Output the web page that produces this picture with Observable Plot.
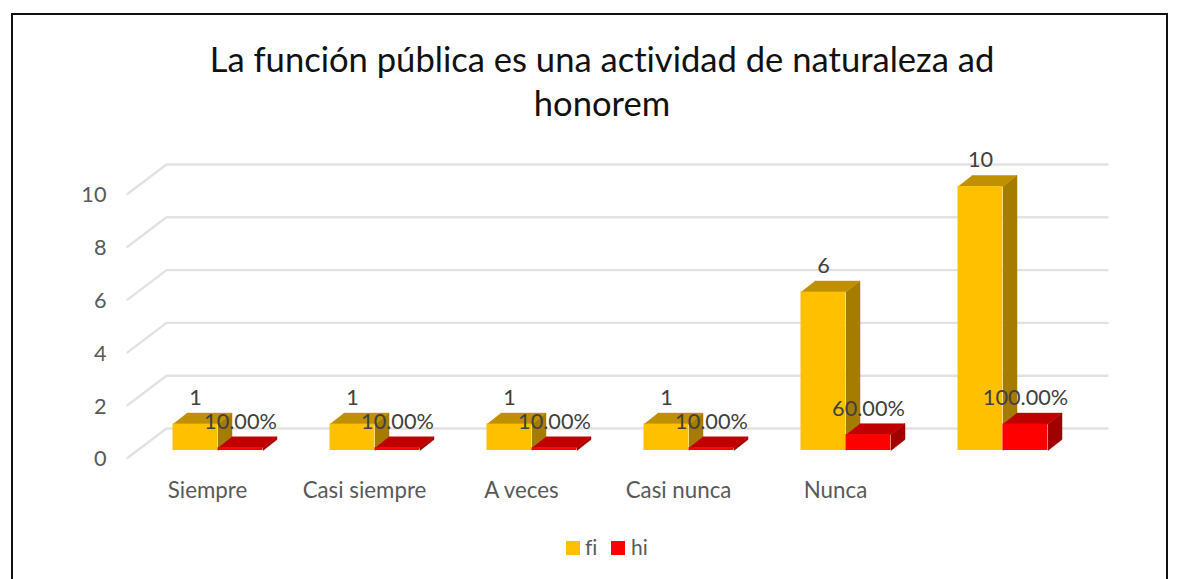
<!DOCTYPE html>
<html lang="es">
<head>
<meta charset="utf-8">
<script src="https://cdn.jsdelivr.net/npm/d3@7"></script>
<script src="https://cdn.jsdelivr.net/npm/@observablehq/plot@0.6"></script>
<style>
html,body{margin:0;padding:0;background:#fff;overflow:hidden}
#page{position:relative;width:1180px;height:579px;overflow:hidden;font-family:Lato,sans-serif;font-variant-ligatures:none}
#frame{position:absolute;left:11px;top:13px;width:1153px;height:600px;border:2px solid #111}
#title{position:absolute;left:102px;top:37px;width:1000px;text-align:center;font-size:34.6px;line-height:44px;color:#111;margin:0;font-weight:400}
#chart{position:absolute;left:0;top:130px}
#chart text{font-variant-ligatures:none}
#legend{position:absolute;left:566px;top:533px;height:28px;font-size:21px;line-height:28px;color:#595959}
#legend i{position:absolute;top:8px;width:14px;height:14px}
#legend span{position:absolute;top:0}
</style>
</head>
<body>
<div id="page">
  <div id="frame"></div>
  <h1 id="title">La función pública es una actividad de naturaleza ad<br>honorem</h1>
  <div id="chart"></div>
  <div id="legend"><i style="left:0;background:#FFC000"></i><span style="left:19px">fi</span><i style="left:45px;background:#FF0000"></i><span style="left:65px">hi</span></div>
</div>
<script>
const categories = ["Siempre", "Casi siempre", "A veces", "Casi nunca", "Nunca", ""];
const fi = [1, 1, 1, 1, 6, 10];
const hi = [0.1, 0.1, 0.1, 0.1, 0.6, 1];
const hiLabels = ["10.00%", "10.00%", "10.00%", "10.00%", "60.00%", "100.00%"];
const yTicks = [0, 2, 4, 6, 8, 10];

// Oblique projection, expressed in scale units (one group = 1 on x, one count = 1 on y).
const unitX = 157, unitY = 26.4;
const gap = 33 / unitX, barW = 45 / unitX;
const depX = 14 / unitX, depY = 11 / unitY;
const wallX1 = 26.5 / unitX, wallX2 = 967.5 / unitX, wallY = 22 / unitY;
const floorX = -12.5 / unitX, floorY = -7.5 / unitY;
const tickY = -9 / unitY;
const labelLift = 26 / unitY;

const left = (i, s) => i + gap + s * barW;
const bars = (vals, s) => vals.map((v, i) => ({x1: left(i, s), x2: left(i, s) + barW, y: v, i}));
const sideFace = (vals, s) => vals.flatMap((v, i) => {
  const x = left(i, s) + barW;
  return [[x, 0], [x + depX, depY], [x + depX, v + depY], [x, v]].map(([a, b]) => ({a, b, id: i}));
});
const topFace = (vals, s) => vals.flatMap((v, i) => {
  const x = left(i, s);
  return [[x, v], [x + barW, v], [x + barW + depX, v + depY], [x + depX, v + depY]].map(([a, b]) => ({a, b, id: i}));
});
const poly = (pts, fill) => Plot.line(pts, {x: "a", y: "b", z: "id", fill, stroke: fill, strokeWidth: 0.5});
const wall = yTicks.flatMap(v => [{a: floorX, b: v + floorY, id: v}, {a: wallX1, b: v + wallY, id: v}, {a: wallX2, b: v + wallY, id: v}]);

const plot = Plot.plot({
  width: 1180, height: 390,
  margin: 0,
  style: {background: "transparent", fontFamily: "Lato, sans-serif"},
  x: {type: "linear", domain: [0, 6], range: [139.5, 1081.5], axis: null},
  y: {type: "linear", domain: [0, 10], range: [320, 56], axis: null},
  marks: [
    Plot.line(wall, {x: "a", y: "b", z: "id", stroke: "#E2E2E2", strokeWidth: 2.4}),
    poly(sideFace(fi, 0), "#A67C00"),
    poly(topFace(fi, 0), "#BF9000"),
    Plot.rectY(bars(fi, 0), {x1: "x1", x2: "x2", y1: 0, y2: "y", fill: "#FFC000"}),
    poly(sideFace(hi, 1), "#A00000"),
    poly(topFace(hi, 1), "#C00000"),
    Plot.rectY(bars(hi, 1), {x1: "x1", x2: "x2", y1: 0, y2: "y", fill: "#FF0000"}),
    Plot.text(fi, {x: (d, i) => left(i, 0) + barW / 2, y: d => d + labelLift, text: d => String(d), fontSize: 21.7, fill: "#404040"}),
    Plot.text(hi, {x: (d, i) => left(i, 1) + barW / 2, y: d => d + labelLift, text: (d, i) => hiLabels[i], fontSize: 21.7, fill: "#404040"}),
    Plot.text(yTicks, {x: floorX, y: d => d + tickY, text: d => String(d), textAnchor: "end", dx: -21, fontSize: 21.7, fill: "#595959"}),
    Plot.text(categories, {x: (d, i) => i + 0.43, y: -1.52, text: d => d, fontSize: 22.3, fill: "#595959"})
  ]
});
document.getElementById("chart").appendChild(plot);
</script>
</body>
</html>
